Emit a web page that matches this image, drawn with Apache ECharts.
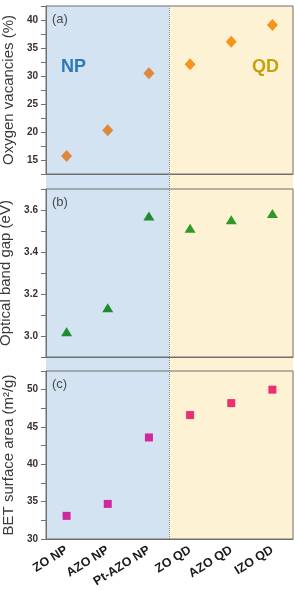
<!DOCTYPE html>
<html><head><meta charset="utf-8">
<script src="https://cdn.jsdelivr.net/npm/echarts@6/dist/echarts.min.js"></script>
<style>html,body{margin:0;padding:0;background:#fff}#c{width:295px;height:590px}</style>
</head><body><div id="c"></div>
<script>
var categories = ['ZO NP', 'AZO NP', 'Pt-AZO NP', 'ZO QD', 'AZO QD', 'IZO QD'];
var oxygenVacancies = [15.7, 20.3, 30.5, 32.1, 36.1, 39.1];
var bandGap = [3.02, 3.135, 3.572, 3.513, 3.553, 3.583];
var betArea = [33.1, 34.7, 43.6, 46.6, 48.2, 50.0];
var yNames = ['Oxygen vacancies (%)', 'Optical band gap (eV)', 'BET surface area (m\u00b2/g)'];
var panelLetters = ['(a)', '(b)', '(c)'];
var groupLabels = ['NP', 'QD'];
var groupSplit = 2.5; // boundary between NP and QD (category index)

var FONT = '"Liberation Sans", Arial, sans-serif';
var L = 46, W = 247;
var tops = [6, 189, 371], H = 168;
var colors = {
  a: ['#df883b', '#df883b', '#df883b', '#f7941d', '#f7941d', '#f7941d'],
  b: ['#1f8a2f', '#1f8a2f', '#1f8a2f', '#2f9a25', '#2f9a25', '#2f9a25'],
  c: ['#d0279b', '#d0279b', '#d0279b', '#ee2f6f', '#ee2f6f', '#ee2f6f']
};

function colored(vals, cols) {
  return vals.map(function (v, i) { return { value: v, itemStyle: { color: cols[i], opacity: 1 } }; });
}
var axisColor = '#6f6f6f';
var grids = [];
var xAxes = [];
var yAxes = [];
for (var i = 0; i < 3; i++) {
  grids.push({ z: 4, left: L, width: W, top: tops[i], height: H, show: true, borderColor: axisColor, borderWidth: 1, backgroundColor: 'transparent', containLabel: false, outerBoundsMode: 'none' });
  xAxes.push({
    type: 'category', gridIndex: i, data: categories, z: 4,
    axisLine: { lineStyle: { color: axisColor } },
    axisTick: { alignWithLabel: true, length: 4, lineStyle: { color: axisColor } },
    axisLabel: i === 2 ? { rotate: 32, fontFamily: FONT, fontWeight: 'bold', fontSize: 12.5, color: '#1a1a1a', margin: 10, interval: 0 } : { show: false },
    splitLine: { show: false }
  });
}
function fmtStep(step, labelStep, dec) {
  return function (v) {
    var r = Math.round(v / step);
    var k = Math.round(labelStep / step);
    return (r % k === 0) ? (r * step).toFixed(dec) : '';
  };
}
var yCfg = [
  { min: 12.5, max: 42.5, interval: 2.5, fmt: fmtStep(2.5, 5, 0) },
  { min: 2.9, max: 3.7, interval: 0.1, fmt: fmtStep(0.1, 0.2, 1) },
  { min: 30, max: 52.5, interval: 2.5, fmt: fmtStep(2.5, 5, 0) }
];
for (var j = 0; j < 3; j++) {
  yAxes.push({
    type: 'value', gridIndex: j, z: 4, min: yCfg[j].min, max: yCfg[j].max, interval: yCfg[j].interval,
    name: yNames[j], nameLocation: 'middle', nameRotate: 90, nameGap: 25,
    nameTextStyle: { fontFamily: FONT, fontSize: 15, color: '#3a3a3a' },
    axisLine: { show: true, lineStyle: { color: axisColor } },
    axisTick: { show: true, length: 5, lineStyle: { color: axisColor } },
    axisLabel: { formatter: yCfg[j].fmt, fontFamily: FONT, fontWeight: 'bold', fontSize: 10, color: '#333', margin: 8, showMaxLabel: true, showMinLabel: true },
    splitLine: { show: false }
  });
}
// background grid spanning all panels
grids.push({ left: L, width: W, top: tops[0], height: tops[2] + H - tops[0], show: false, z: 0, outerBoundsMode: 'none' });
xAxes.push({ type: 'value', gridIndex: 3, min: -0.5, max: categories.length - 0.5, show: false });
yAxes.push({ type: 'value', gridIndex: 3, min: 0, max: 1, show: false });

var series = [
  {
    type: 'scatter', xAxisIndex: 3, yAxisIndex: 3, z: 1, zlevel: 0, data: [], silent: true,
    markArea: {
      silent: true,
      itemStyle: { opacity: 1 },
      data: [
        [{ xAxis: -0.5, yAxis: 0, itemStyle: { color: '#d3e3f2' } }, { xAxis: groupSplit, yAxis: 1 }],
        [{ xAxis: groupSplit, yAxis: 0, itemStyle: { color: '#fdf3d4' } }, { xAxis: categories.length - 0.5, yAxis: 1 }]
      ]
    },
    markLine: {
      silent: true, symbol: 'none', label: { show: false },
      lineStyle: { type: 'dotted', color: '#8a8a8a', width: 1 },
      data: [{ xAxis: groupSplit }]
    }
  },
  { type: 'scatter', xAxisIndex: 0, yAxisIndex: 0, symbol: 'diamond', symbolSize: [11, 12], data: colored(oxygenVacancies, colors.a), z: 6 },
  { type: 'scatter', xAxisIndex: 1, yAxisIndex: 1, symbol: 'triangle', symbolSize: [11, 9], data: colored(bandGap, colors.b), z: 6 },
  { type: 'scatter', xAxisIndex: 2, yAxisIndex: 2, symbol: 'rect', symbolSize: 8, data: colored(betArea, colors.c), z: 6 }
];

var graphics = [];
for (var k = 0; k < 3; k++) {
  graphics.push({ type: 'text', left: 52, top: tops[k] + 7, style: { text: panelLetters[k], font: '13px ' + FONT, fill: '#4a4a4a' }, z: 10 });
}
graphics.push({ type: 'text', left: 61, top: 58, style: { text: groupLabels[0], font: 'bold 18px ' + FONT, fill: '#2b78bb' }, z: 10 });
graphics.push({ type: 'text', left: 252, top: 58, style: { text: groupLabels[1], font: 'bold 18px ' + FONT, fill: '#c8a00c' }, z: 10 });

var chart = echarts.init(document.getElementById('c'), null, { renderer: 'canvas' });
chart.setOption({
  animation: false,
  backgroundColor: '#ffffff',
  grid: grids, xAxis: xAxes, yAxis: yAxes, series: series, graphic: graphics
});
</script>
</body></html>
